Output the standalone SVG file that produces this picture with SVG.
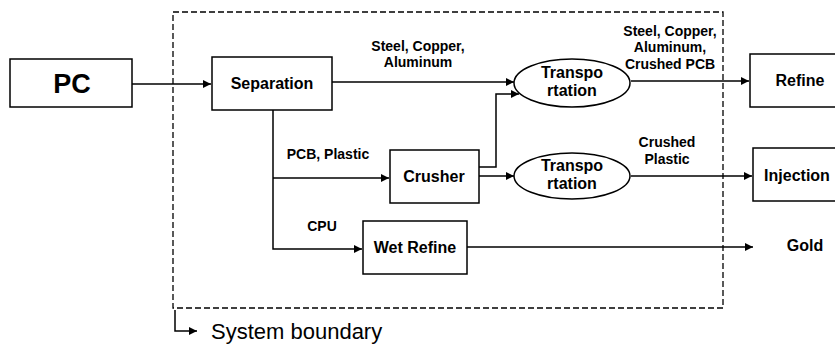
<svg xmlns="http://www.w3.org/2000/svg" width="835" height="344" viewBox="0 0 835 344">
<style>
.box{fill:#fff;stroke:#000;stroke-width:1.5}
.t{font-family:"Liberation Sans",Arial,sans-serif;font-weight:bold;font-size:16px;text-anchor:middle;fill:#000}
.l{font-family:"Liberation Sans",Arial,sans-serif;font-weight:bold;font-size:14px;text-anchor:middle;fill:#000}
.c{fill:none;stroke:#000;stroke-width:1.5}
.b{fill:none;stroke:#000;stroke-width:1.3;stroke-dasharray:6,3}
</style>
<defs>
<marker id="ah" viewBox="0 0 10 10" refX="10" refY="5" markerWidth="10" markerHeight="8" markerUnits="userSpaceOnUse" orient="auto">
<path d="M0,0 L10,5 L0,10 Z" fill="#000"/>
</marker>
</defs>
<rect x="0" y="0" width="835" height="344" fill="#fff"/>
<g id="boundary">
<rect class="b" x="173" y="12" width="550" height="296"/>
</g>
<g id="connectors">
<path class="c" d="M132,84 H211" marker-end="url(#ah)"/>
<path class="c" d="M332,82 H514" marker-end="url(#ah)"/>
<path class="c" d="M273,110 V249 H362" marker-end="url(#ah)"/>
<path class="c" d="M273,178 H389" marker-end="url(#ah)"/>
<path class="c" d="M479,167 H496 V94 H519" marker-end="url(#ah)"/>
<path class="c" d="M479,176 H514" marker-end="url(#ah)"/>
<path class="c" d="M631,81 H749" marker-end="url(#ah)"/>
<path class="c" d="M631,176 H752" marker-end="url(#ah)"/>
<path class="c" d="M467,247 H753" marker-end="url(#ah)"/>
<path class="c" d="M175,310 V331 H197" marker-end="url(#ah)"/>
</g>
<g id="labels">
<text class="l" x="418" y="51">Steel, Copper,</text>
<text class="l" x="418" y="67">Aluminum</text>
<text class="l" x="328" y="159">PCB, Plastic</text>
<text class="l" x="322" y="231">CPU</text>
<text class="l" x="670" y="36">Steel, Copper,</text>
<text class="l" x="670" y="52">Aluminum,</text>
<text class="l" x="670" y="69">Crushed PCB</text>
<text class="l" x="667" y="147">Crushed</text>
<text class="l" x="667" y="164">Plastic</text>
<text class="t" x="805" y="251">Gold</text>
<text x="211" y="339" style="font-family:'Liberation Sans',Arial,sans-serif;font-size:22px" fill="#000">System boundary</text>
</g>
<g id="pc">
<rect class="box" x="10" y="59" width="122" height="48"/>
<text class="t" x="72" y="93" style="font-size:27px">PC</text>
</g>
<g id="separation">
<rect class="box" x="212" y="57" width="120" height="53"/>
<text class="t" x="272" y="89">Separation</text>
</g>
<g id="transportation1">
<ellipse class="box" cx="572" cy="83" rx="58" ry="24"/>
<text class="t" x="572" y="78">Transpo</text>
<text class="t" x="572" y="96">rtation</text>
</g>
<g id="crusher">
<rect class="box" x="390" y="150" width="89" height="53"/>
<text class="t" x="434" y="182">Crusher</text>
</g>
<g id="transportation2">
<ellipse class="box" cx="572" cy="176" rx="58" ry="23"/>
<text class="t" x="572" y="171">Transpo</text>
<text class="t" x="572" y="189">rtation</text>
</g>
<g id="wetrefine">
<rect class="box" x="363" y="221" width="104" height="53"/>
<text class="t" x="415" y="253">Wet Refine</text>
</g>
<g id="refine">
<rect class="box" x="750" y="54" width="90" height="53"/>
<text class="t" x="800" y="86">Refine</text>
</g>
<g id="injection">
<rect class="box" x="753" y="148" width="90" height="53"/>
<text class="t" x="797" y="181">Injection</text>
</g>
</svg>
